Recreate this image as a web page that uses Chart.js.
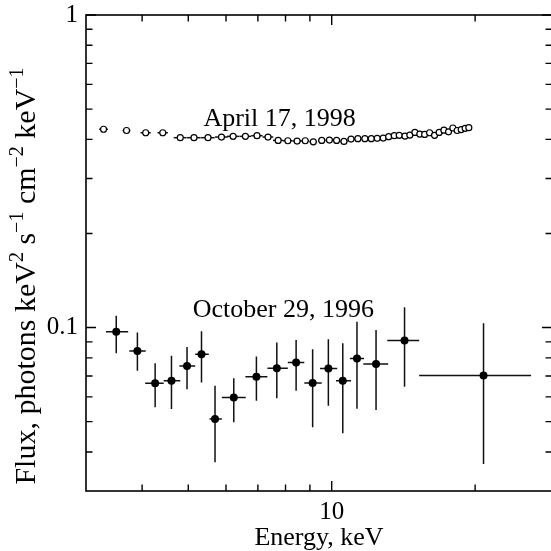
<!DOCTYPE html>
<html>
<head>
<meta charset="utf-8">
<script src="https://cdn.jsdelivr.net/npm/chart.js@4/dist/chart.umd.min.js"></script>
<style>
  html, body { margin: 0; padding: 0; overflow: hidden; background: #fff; }
  #wrap { width: 560px; height: 551px; position: relative; }
</style>
</head>
<body>
<div id="wrap"><canvas id="c" width="560" height="551"></canvas></div>
<script>
// ---- April 17, 1998 spectrum (open circles, energy-bin bars) ----
const aprEnergy = [3.32, 3.71, 4.07, 4.42, 4.81, 5.14, 5.50, 5.87, 6.21, 6.59,
                   6.97, 7.35, 7.72, 8.09, 8.46, 8.80, 9.15, 9.53, 9.89, 10.24,
                   10.61, 10.98, 11.35, 11.74, 12.11, 12.46, 12.83, 13.17, 13.53, 13.86,
                   14.25, 14.59, 14.95, 15.31, 15.67, 16.05, 16.44, 16.81, 17.20, 17.59,
                   17.96, 18.34, 18.70, 19.06, 19.40];
const aprEnergyErr = [0.07, 0.07, 0.10, 0.11, 0.15, 0.17, 0.18, 0.18, 0.18, 0.19,
                      0.19, 0.19, 0.19, 0.19, 0.18, 0.17, 0.17, 0.17, 0.18, 0.18,
                      0.19, 0.19, 0.19, 0.18, 0.18, 0.18, 0.18, 0.17, 0.17, 0.17,
                      0.17, 0.16, 0.16, 0.16, 0.16, 0.16, 0.16, 0.16, 0.16, 0.15,
                      0.15, 0.15, 0.14, 0.14, 0.14];
const aprFlux = [0.431, 0.427, 0.420, 0.420, 0.405, 0.405, 0.405, 0.407, 0.409, 0.409,
                 0.411, 0.407, 0.397, 0.396, 0.395, 0.396, 0.393, 0.397, 0.398, 0.397,
                 0.394, 0.401, 0.402, 0.402, 0.402, 0.403, 0.404, 0.408, 0.411, 0.412,
                 0.410, 0.413, 0.421, 0.416, 0.415, 0.420, 0.412, 0.421, 0.428, 0.423,
                 0.435, 0.427, 0.430, 0.434, 0.436];

// ---- October 29, 1996 spectrum (filled circles, bins and 1-sigma errors) ----
const octEnergy   = [3.53, 3.91, 4.26, 4.61, 4.97, 5.33, 5.69, 6.23, 6.95, 7.67,
                     8.42, 9.12, 9.84, 10.55, 11.30, 12.39, 14.22, 20.83];
const octEnergyLo = [3.36, 3.76, 4.06, 4.44, 4.79, 5.17, 5.54, 5.88, 6.59, 7.33,
                     8.09, 8.76, 9.45, 10.21, 10.92, 11.65, 13.08, 15.26];
const octEnergyHi = [3.74, 4.07, 4.44, 4.81, 5.17, 5.52, 5.88, 6.60, 7.33, 8.09,
                     8.76, 9.53, 10.27, 10.98, 11.69, 13.14, 15.26, 26.21];
const octFlux     = [0.0969, 0.0842, 0.0664, 0.0676, 0.0754, 0.0822, 0.0510, 0.0597, 0.0696, 0.0741,
                     0.0773, 0.0665, 0.0739, 0.0676, 0.0796, 0.0765, 0.0909, 0.0702];
const octFluxLo   = [0.0828, 0.0727, 0.0556, 0.0549, 0.0635, 0.0667, 0.0371, 0.0498, 0.0583, 0.0594,
                     0.0628, 0.0480, 0.0562, 0.0459, 0.0550, 0.0545, 0.0647, 0.0366];
const octFluxHi   = [0.1090, 0.0964, 0.0769, 0.0812, 0.0866, 0.0974, 0.0651, 0.0689, 0.0808, 0.0895,
                     0.0913, 0.0853, 0.0918, 0.0891, 0.1043, 0.0983, 0.1162, 0.1033];

// ---- axes ----
const xTickValues = [4, 5, 6, 7, 8, 9, 10, 20];
const xMajor = [10];
const xTickLabels = { 10: '10' };
const yTickValues = [0.04, 0.05, 0.06, 0.07, 0.08, 0.09, 0.1,
                     0.2, 0.3, 0.4, 0.5, 0.6, 0.7, 0.8, 0.9, 1];
const yMajor = [0.1, 1];
const yTickLabels = { 0.1: '0.1', 1: '1' };

const xTitle = 'Energy, keV';
const yTitleParts = [
  { t: 'Flux, photons keV' }, { t: '2', sup: true },
  { t: ' s' }, { t: '\u22121', sup: true },
  { t: ' cm' }, { t: '\u22122', sup: true },
  { t: ' keV' }, { t: '\u22121', sup: true }
];

// Labels placed at data coordinates (energy, flux) – left edge / baseline
const notes = [
  { text: 'April 17, 1998', x: 5.38, y: 0.440 },
  { text: 'October 29, 1996', x: 5.11, y: 0.1084 }
];

const SERIF = '"Liberation Serif", "Times New Roman", serif';

const aprData = aprEnergy.map((e, i) => ({
  x: e, y: aprFlux[i], xMin: e - aprEnergyErr[i], xMax: e + aprEnergyErr[i]
}));
const octData = octEnergy.map((e, i) => ({
  x: e, y: octFlux[i], xMin: octEnergyLo[i], xMax: octEnergyHi[i],
  yMin: octFluxLo[i], yMax: octFluxHi[i]
}));

const errorBars = {
  id: 'errorBars',
  beforeDatasetsDraw(chart) {
    const { ctx, scales: { x, y } } = chart;
    ctx.save();
    ctx.strokeStyle = '#111';
    ctx.lineWidth = 1.5;
    chart.data.datasets.forEach(ds => {
      ds.data.forEach(p => {
        const px = x.getPixelForValue(p.x), py = y.getPixelForValue(p.y);
        ctx.beginPath();
        if (p.xMin !== undefined) {
          ctx.moveTo(x.getPixelForValue(p.xMin), py);
          ctx.lineTo(x.getPixelForValue(p.xMax), py);
        }
        if (p.yMin !== undefined) {
          ctx.moveTo(px, y.getPixelForValue(p.yMin));
          ctx.lineTo(px, y.getPixelForValue(p.yMax));
        }
        ctx.stroke();
      });
    });
    ctx.restore();
  }
};

const frame = {
  id: 'frame',
  afterDraw(chart) {
    const { ctx, chartArea: a, scales: { x, y } } = chart;
    ctx.save();
    ctx.strokeStyle = '#000';
    ctx.lineWidth = 1.6;
    ctx.strokeRect(a.left, a.top, a.right - a.left, a.bottom - a.top);

    ctx.lineWidth = 1.4;
    ctx.beginPath();
    xTickValues.forEach(v => {
      const px = x.getPixelForValue(v);
      const len = xMajor.includes(v) ? 10 : 6.5;
      ctx.moveTo(px, a.bottom); ctx.lineTo(px, a.bottom - len);
      ctx.moveTo(px, a.top); ctx.lineTo(px, a.top + len);
    });
    yTickValues.forEach(v => {
      const py = y.getPixelForValue(v);
      const len = yMajor.includes(v) ? 10 : 6.5;
      ctx.moveTo(a.left, py); ctx.lineTo(a.left + len, py);
      ctx.moveTo(a.right, py); ctx.lineTo(a.right - len, py);
    });
    ctx.stroke();

    // annotations
    ctx.fillStyle = '#000';
    ctx.font = '26px ' + SERIF;
    ctx.textBaseline = 'alphabetic';
    ctx.textAlign = 'left';
    notes.forEach(n => {
      ctx.fillText(n.text, x.getPixelForValue(n.x), y.getPixelForValue(n.y));
    });

    // vertical axis title with superscripts
    const mainFont = '30px ' + SERIF, supFont = '20px ' + SERIF;
    let total = 0;
    yTitleParts.forEach(p => {
      ctx.font = p.sup ? supFont : mainFont;
      p.w = ctx.measureText(p.t).width;
      total += p.w;
    });
    ctx.translate(35, 276);
    ctx.rotate(-Math.PI / 2);
    let cx = -total / 2;
    yTitleParts.forEach(p => {
      ctx.font = p.sup ? supFont : mainFont;
      ctx.fillText(p.t, cx, p.sup ? -12 : 0);
      cx += p.w;
    });
    ctx.restore();
  }
};

new Chart(document.getElementById('c'), {
  type: 'scatter',
  data: {
    datasets: [
      {
        label: 'April 17, 1998',
        data: aprData,
        pointStyle: 'circle',
        pointRadius: 3,
        pointBorderWidth: 1.2,
        pointBackgroundColor: '#fff',
        pointBorderColor: '#000',
        showLine: false
      },
      {
        label: 'October 29, 1996',
        data: octData,
        pointStyle: 'circle',
        pointRadius: 4,
        pointBorderWidth: 0,
        pointBackgroundColor: '#000',
        pointBorderColor: '#000',
        showLine: false
      }
    ]
  },
  options: {
    responsive: false,
    animation: false,
    devicePixelRatio: 1,
    events: [],
    layout: { padding: { left: 0, right: 8, top: 15, bottom: 0 } },
    plugins: { legend: { display: false }, tooltip: { enabled: false } },
    scales: {
      x: {
        type: 'logarithmic',
        position: 'bottom',
        min: 3.05,
        max: 29,
        afterBuildTicks: s => { s.ticks = xTickValues.map(v => ({ value: v })); },
        afterFit: s => { s.height = 60; s.paddingLeft = 0; s.paddingRight = 0; },
        grid: { display: false, drawTicks: false },
        border: { display: false },
        ticks: {
          autoSkip: false, maxRotation: 0, padding: 6, color: '#000',
          font: { family: SERIF, size: 25 },
          callback: v => xTickLabels[v] || ''
        },
        title: {
          display: true, text: xTitle, color: '#000',
          font: { family: SERIF, size: 26, lineHeight: 1 },
          padding: { top: 0, bottom: 0 }
        }
      },
      y: {
        type: 'logarithmic',
        position: 'left',
        min: 0.03,
        max: 1,
        afterBuildTicks: s => { s.ticks = yTickValues.map(v => ({ value: v })); },
        afterFit: s => { s.width = 86; s.paddingTop = 0; s.paddingBottom = 0; },
        grid: { display: false, drawTicks: false },
        border: { display: false },
        ticks: {
          autoSkip: false, padding: 8, color: '#000',
          font: { family: SERIF, size: 25 },
          callback: v => yTickLabels[v] || ''
        }
      }
    }
  },
  plugins: [errorBars, frame]
});
</script>
</body>
</html>
